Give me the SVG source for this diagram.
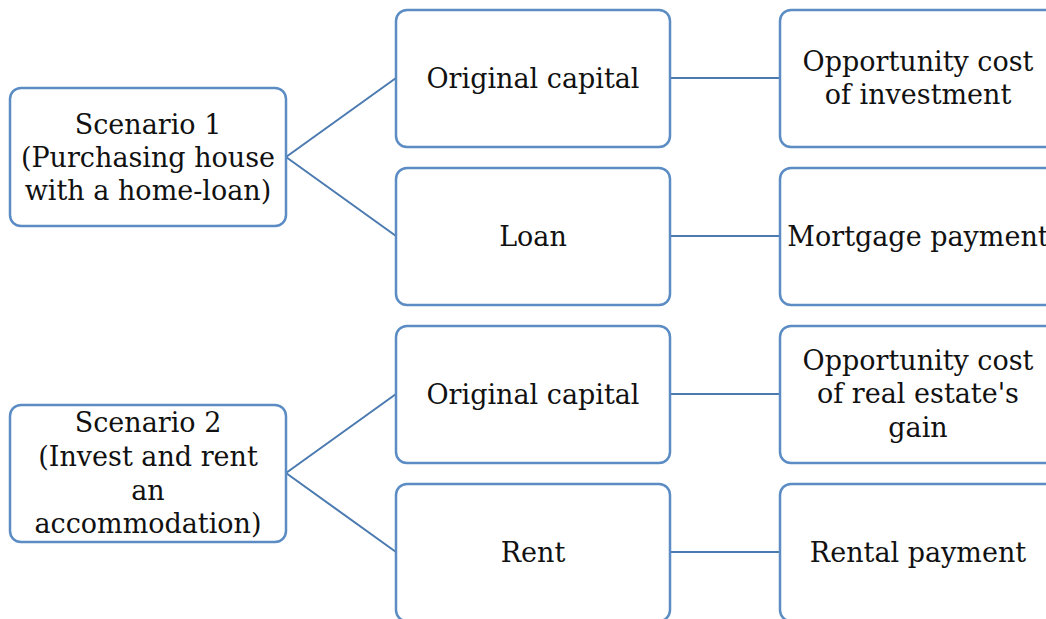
<svg xmlns="http://www.w3.org/2000/svg" width="1046" height="619" viewBox="0 0 1046 619">
<style>
.box{fill:#ffffff;stroke:#5b8cc4;stroke-width:2.5}
.t{font-family:"DejaVu Serif","Liberation Serif",serif;font-size:27px;fill:#111;text-anchor:middle}
.c{stroke:#4a7ab0;stroke-width:2;fill:none}
</style>
<rect width="1046" height="619" fill="#ffffff"/>
<g id="connectors">
<line class="c" x1="286" y1="157" x2="396" y2="78"/>
<line class="c" x1="286" y1="157" x2="396" y2="236"/>
<line class="c" x1="286" y1="473" x2="396" y2="394"/>
<line class="c" x1="286" y1="473" x2="396" y2="552"/>
<line class="c" x1="670" y1="78" x2="780" y2="78"/>
<line class="c" x1="670" y1="236" x2="780" y2="236"/>
<line class="c" x1="670" y1="394" x2="780" y2="394"/>
<line class="c" x1="670" y1="552" x2="780" y2="552"/>
</g>
<g id="scenario1">
<rect class="box" x="10" y="88" width="276" height="138" rx="11"/>
<text class="t" x="148" y="134">Scenario 1</text>
<text class="t" x="148" y="167">(Purchasing house</text>
<text class="t" x="148" y="200">with a home-loan)</text>
</g>
<g id="scenario2">
<rect class="box" x="10" y="405" width="276" height="137" rx="11"/>
<text class="t" x="148" y="432">Scenario 2</text>
<text class="t" x="148" y="466">(Invest and rent</text>
<text class="t" x="148" y="500">an</text>
<text class="t" x="148" y="533">accommodation)</text>
</g>
<g id="capital1">
<rect class="box" x="396" y="10" width="274" height="137" rx="11"/>
<text class="t" x="533" y="88">Original capital</text>
</g>
<g id="loan">
<rect class="box" x="396" y="168" width="274" height="137" rx="11"/>
<text class="t" x="533" y="246">Loan</text>
</g>
<g id="capital2">
<rect class="box" x="396" y="326" width="274" height="137" rx="11"/>
<text class="t" x="533" y="404">Original capital</text>
</g>
<g id="rent">
<rect class="box" x="396" y="484" width="274" height="137" rx="11"/>
<text class="t" x="533" y="562">Rent</text>
</g>
<g id="oppcost1">
<rect class="box" x="780" y="10" width="276" height="137" rx="11"/>
<text class="t" x="918" y="71">Opportunity cost</text>
<text class="t" x="918" y="104">of investment</text>
</g>
<g id="mortgage">
<rect class="box" x="780" y="168" width="276" height="137" rx="11"/>
<text class="t" x="918" y="246">Mortgage payment</text>
</g>
<g id="oppcost2">
<rect class="box" x="780" y="326" width="276" height="137" rx="11"/>
<text class="t" x="918" y="370">Opportunity cost</text>
<text class="t" x="918" y="403">of real estate's</text>
<text class="t" x="918" y="437">gain</text>
</g>
<g id="rental">
<rect class="box" x="780" y="484" width="276" height="137" rx="11"/>
<text class="t" x="918" y="562">Rental payment</text>
</g>
</svg>
